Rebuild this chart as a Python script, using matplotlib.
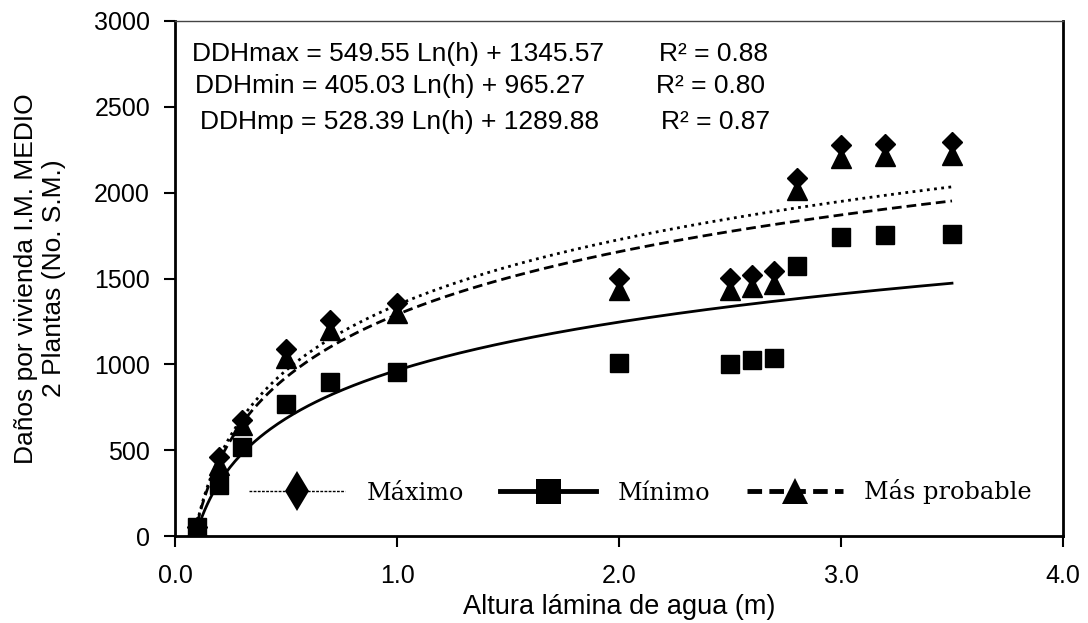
import numpy as np
import matplotlib
matplotlib.use("Agg")
import matplotlib.pyplot as plt
from matplotlib.lines import Line2D

plt.rcParams['font.family'] = ['Liberation Sans', 'DejaVu Sans']

# water depth (m) and damage values
h = [0.1, 0.2, 0.3, 0.5, 0.7, 1.0, 2.0, 2.5, 2.6, 2.7, 2.8, 3.0, 3.2, 3.5]
d_max = [55, 462, 676, 1088, 1259, 1357, 1504, 1504, 1522, 1541, 2085, 2276, 2285, 2293]
d_min = [55, 297, 521, 770, 900, 958, 1008, 1003, 1026, 1036, 1570, 1742, 1755, 1762]
d_mp = [55, 414, 647, 1036, 1201, 1298, 1434, 1434, 1452, 1469, 2017, 2204, 2212, 2221]

# fitted log trendlines: a*Ln(h) + b
fit_max = (549.55, 1345.57)
fit_min = (405.03, 965.27)
fit_mp = (528.39, 1289.88)

eq_labels = ["DDHmax = 549.55 Ln(h) + 1345.57",
             "DDHmin = 405.03 Ln(h) + 965.27",
             "DDHmp = 528.39 Ln(h) + 1289.88"]
r2_labels = ["R² = 0.88", "R² = 0.80", "R² = 0.87"]
legend_labels = ["Máximo", "Mínimo", "Más probable"]

fig = plt.figure(figsize=(10.88, 6.23), dpi=100)
ax = fig.add_axes([175/1088, 1 - 536/623, 888/1088, 515/623])

# markers
ax.plot(h, d_max, linestyle='none', marker='D', ms=10.5, color='black', zorder=3)
ax.plot(h, d_mp, linestyle='none', marker='^', ms=14, color='black', zorder=3)
ax.plot(h, d_min, linestyle='none', marker='s', ms=13.5, color='black', zorder=3)

# trendlines
hh = np.linspace(h[0], h[-1], 300)
ax.plot(hh, fit_max[0]*np.log(hh) + fit_max[1], color='black', lw=2,
        linestyle=(0, (1, 1.6)), zorder=4)
ax.plot(hh, fit_mp[0]*np.log(hh) + fit_mp[1], color='black', lw=2,
        linestyle=(0, (3.5, 1.8)), zorder=4)
ax.plot(hh, fit_min[0]*np.log(hh) + fit_min[1], color='black', lw=2,
        linestyle='-', zorder=4)

ax.set_xlim(0, 4)
ax.set_ylim(0, 3000)
ax.set_xticks([0, 1, 2, 3, 4])
ax.set_xticklabels([f"{v:.1f}" for v in [0, 1, 2, 3, 4]])
ax.set_yticks(range(0, 3001, 500))
ax.tick_params(axis='x', direction='out', length=8, width=1.5, pad=12, labelsize=18)
ax.tick_params(axis='y', direction='out', length=8, width=1.5, pad=10, labelsize=18)

for side in ['left', 'bottom', 'right']:
    ax.spines[side].set_linewidth(2)
ax.spines['top'].set_linewidth(1)
ax.spines['top'].set_color('#444444')

ax.set_xlabel("Altura lámina de agua (m)", fontsize=19.5)
ax.xaxis.set_label_coords(0.5, (536 - 594) / 515)
ax.set_ylabel("Daños por vivienda I.M. MEDIO\n2 Plantas (No. S.M.)", fontsize=19,
              linespacing=1.2)
ax.yaxis.set_label_coords((66 - 175) / 888, 0.5)

# equation annotations
eq_pos = [(192, 54), (195, 86), (200, 122)]
r2_pos = [(659, 54), (656, 86), (661, 122)]
for (x, y), s in zip(eq_pos, eq_labels):
    fig.text(x/1088, 1 - y/623, s, fontsize=19, va='center', ha='left')
for (x, y), s in zip(r2_pos, r2_labels):
    fig.text(x/1088, 1 - y/623, s, fontsize=19, va='center', ha='left')

# legend with custom handles
handles = [
    Line2D([], [], color='black', lw=1, linestyle=(0, (2, 1)),
           marker='d', ms=20, markeredgewidth=0),
    Line2D([], [], color='black', lw=3.5, linestyle='-',
           marker='s', ms=18, markeredgewidth=0),
    Line2D([], [], color='black', lw=3.5, linestyle=(0, (3, 1.5)),
           marker='^', ms=19, markeredgewidth=0),
]
leg = ax.legend(handles, legend_labels, ncol=3, loc='center left',
                bbox_to_anchor=((249-175)/888, (536-492)/515), frameon=False,
                prop={'family': 'DejaVu Serif', 'size': 17.3}, handlelength=4.0,
                handletextpad=0.9, columnspacing=1.5, borderaxespad=0, borderpad=0)

fig.savefig("out.png", dpi=100)
